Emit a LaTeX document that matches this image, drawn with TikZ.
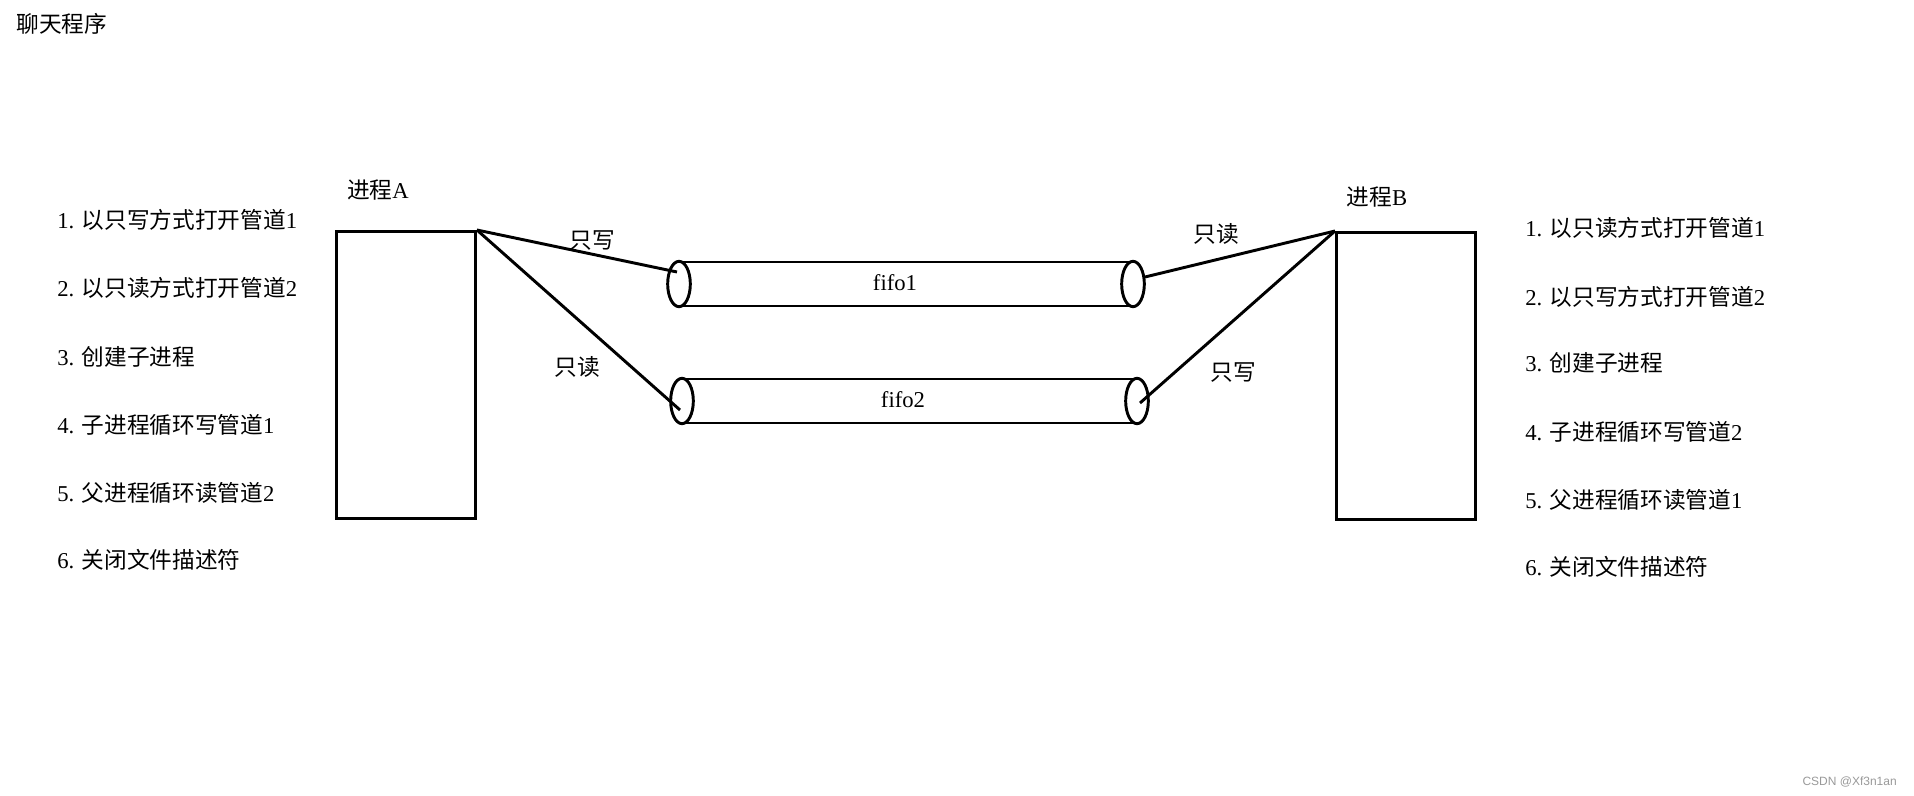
\documentclass[tikz,border=0pt]{standalone}
\usepackage{fontspec}
\setmainfont{Liberation Serif}
\newfontfamily\cjk{Noto Sans CJK SC}
\newfontfamily\wmfont{Liberation Sans}
\newcommand{\zh}[1]{{\cjk #1}}
\begin{document}
\begin{tikzpicture}[x=0.75pt,y=-0.75pt,
  every node/.style={font=\fontsize{17}{20}\selectfont, inner sep=0pt},
  line/.style={line width=2.2pt},
  procbox/.style={draw, line width=2.2pt, anchor=north west, minimum width=104.25pt, minimum height=215.5pt},
  item/.style={anchor=west},
  lbl/.style={anchor=center}]
\useasboundingbox (0,0) rectangle (1914,796);
% title
\node[lbl] (title) at (62,24) {\zh{聊天程序}};
% process boxes
\node[procbox] (A) at (335,230) {};
\node[procbox] (B) at (1335,231) {};
\node[lbl] (Alab) at (378,190) {\zh{进程}A};
\node[lbl] (Blab) at (1377,197) {\zh{进程}B};
% pipes
\coordinate (f1l) at (679,284);
\coordinate (f1r) at (1133,284);
\coordinate (f2l) at (682,401);
\coordinate (f2r) at (1137,401);
\draw[line] ([yshift=16.5pt]f1l) -- ([yshift=16.5pt]f1r);
\draw[line] ([yshift=-16.5pt]f1l) -- ([yshift=-16.5pt]f1r);
\draw[line] ([yshift=16.5pt]f2l) -- ([yshift=16.5pt]f2r);
\draw[line] ([yshift=-16.5pt]f2l) -- ([yshift=-16.5pt]f2r);
\draw[line, fill=white] (f1l) ellipse [x radius=8.5pt, y radius=17pt];
\draw[line, fill=white] (f1r) ellipse [x radius=8.5pt, y radius=17pt];
\draw[line, fill=white] (f2l) ellipse [x radius=8.5pt, y radius=17pt];
\draw[line, fill=white] (f2r) ellipse [x radius=8.5pt, y radius=17pt];
\node[lbl] (fifo1) at (895,283) {fifo1};
\node[lbl] (fifo2) at (903,400) {fifo2};
% connectors
\coordinate (a1) at (677,272);
\coordinate (a2) at (680,410);
\coordinate (b1) at (1145,277);
\coordinate (b2) at (1140,403);
\draw[line] (A.north east) -- (a1);
\draw[line] (A.north east) -- (a2);
\draw[line] (B.north west) -- (b1);
\draw[line] (B.north west) -- (b2);
\node[lbl] (w1) at (592,241) {\zh{只写}};
\node[lbl] (r1) at (577,367) {\zh{只读}};
\node[lbl] (r2) at (1216,234) {\zh{只读}};
\node[lbl] (w2) at (1233,373) {\zh{只写}};
% left list
\node[item] (l1) at (57,220) {1. \zh{以只写方式打开管道}1};
\node[item] (l2) at (57,288) {2. \zh{以只读方式打开管道}2};
\node[item] (l3) at (57,357) {3. \zh{创建子进程}};
\node[item] (l4) at (57,425) {4. \zh{子进程循环写管道}1};
\node[item] (l5) at (57,493) {5. \zh{父进程循环读管道}2};
\node[item] (l6) at (57,560) {6. \zh{关闭文件描述符}};
% right list
\node[item] (r1i) at (1525,228) {1. \zh{以只读方式打开管道}1};
\node[item] (r2i) at (1525,297) {2. \zh{以只写方式打开管道}2};
\node[item] (r3i) at (1525,363) {3. \zh{创建子进程}};
\node[item] (r4i) at (1525,432) {4. \zh{子进程循环写管道}2};
\node[item] (r5i) at (1525,500) {5. \zh{父进程循环读管道}1};
\node[item] (r6i) at (1525,567) {6. \zh{关闭文件描述符}};
% watermark
\node[anchor=east, font=\wmfont\fontsize{9}{10}\selectfont, text=black!40] (wm) at (1897,782) {CSDN @Xf3n1an};
\end{tikzpicture}
\end{document}
